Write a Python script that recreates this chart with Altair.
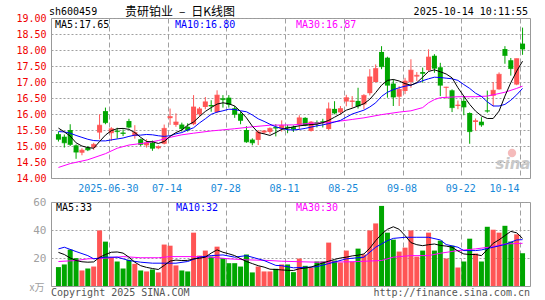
import altair as alt
import pandas as pd

# ---------------- data ----------------
tick_idx = [9, 19, 29, 39, 49, 59, 69, 79]
tick_labels = ["2025-06-30", "07-14", "07-28", "08-11", "08-25", "09-08", "09-22", "10-14"]
price_ticks = [14.0, 14.5, 15.0, 15.5, 16.0, 16.5, 17.0, 17.5, 18.0, 18.5, 19.0]
vol_ticks = [20, 40, 60]

opens = [15.37, 15.29, 15.50, 15.02, 14.79, 14.95, 14.95, 15.42, 16.09, 15.40,
         15.48, 15.42, 15.78, 15.31, 15.21, 15.02, 15.10, 14.93, 15.07, 15.87,
         15.66, 15.67, 15.60, 15.68, 15.99, 16.22, 16.28, 16.06, 16.49, 16.51,
         16.18, 16.01, 15.50, 15.20, 15.19, 15.42, 15.44, 15.59, 15.54, 15.60,
         15.59, 15.66, 15.88, 15.47, 15.74, 15.77, 15.53, 16.16, 16.05, 16.39,
         16.38, 16.41, 16.30, 16.65, 17.00, 17.94, 17.76, 16.95, 16.54, 16.72,
         17.00, 17.17, 17.31, 17.37, 17.82, 17.46, 16.82, 16.74, 16.25, 16.41,
         16.03, 15.75, 15.76, 16.11, 16.57, 16.77, 18.03, 17.68, 16.92, 18.20]
highs = [15.45, 15.36, 15.68, 15.05, 14.93, 15.00, 15.10, 15.99, 16.20, 15.59,
         15.57, 15.52, 15.85, 15.65, 15.23, 15.21, 15.17, 15.02, 15.67, 16.17,
         16.02, 15.73, 15.71, 16.59, 16.22, 16.53, 16.43, 16.74, 16.59, 16.59,
         16.25, 16.07, 15.62, 15.24, 15.50, 15.50, 15.58, 15.68, 15.80, 15.66,
         15.64, 15.96, 15.90, 15.78, 15.80, 15.85, 16.36, 16.40, 16.25, 16.60,
         16.56, 16.82, 16.62, 17.40, 17.55, 18.12, 17.79, 17.08, 16.87, 17.13,
         17.71, 17.31, 17.45, 18.02, 17.87, 17.60, 16.85, 16.77, 16.42, 16.56,
         16.05, 15.86, 15.90, 16.73, 17.00, 17.30, 18.12, 17.75, 17.73, 18.70]
lows = [15.14, 14.95, 15.00, 14.60, 14.71, 14.84, 14.88, 15.21, 15.68, 15.16,
        15.23, 15.31, 15.55, 15.23, 15.00, 14.95, 14.85, 14.90, 15.05, 15.66,
        15.60, 15.45, 15.45, 15.65, 15.93, 16.15, 16.07, 16.03, 16.20, 16.20,
        15.88, 15.68, 15.10, 15.02, 15.03, 15.38, 15.38, 15.30, 15.45, 15.40,
        15.44, 15.52, 15.62, 15.45, 15.58, 15.58, 15.50, 15.99, 15.98, 16.24,
        16.20, 16.17, 16.15, 16.58, 16.98, 17.40, 16.51, 16.25, 16.25, 16.62,
        16.82, 17.03, 16.98, 17.34, 17.29, 16.56, 16.48, 16.06, 16.15, 15.96,
        15.07, 15.48, 15.60, 16.04, 16.24, 16.76, 17.57, 17.20, 16.90, 17.85]
closes = [15.21, 15.10, 15.05, 14.81, 14.87, 14.88, 15.05, 15.65, 15.73, 15.54,
          15.45, 15.39, 15.59, 15.42, 15.05, 15.10, 14.93, 14.98, 15.55, 15.92,
          15.75, 15.54, 15.50, 16.22, 16.16, 16.38, 16.25, 16.59, 16.45, 16.30,
          15.99, 15.80, 15.13, 15.10, 15.44, 15.47, 15.55, 15.56, 15.64, 15.57,
          15.53, 15.88, 15.65, 15.75, 15.71, 15.74, 16.16, 16.03, 16.17, 16.51,
          16.41, 16.25, 16.58, 17.16, 17.42, 17.48, 16.90, 16.53, 16.77, 17.03,
          17.37, 17.21, 17.27, 17.78, 17.43, 16.90, 16.84, 16.20, 16.28, 16.22,
          15.45, 15.79, 15.66, 16.09, 16.74, 17.24, 17.83, 17.42, 17.73, 18.03]
volumes = [13.5, 15.4, 26.0, 19.9, 11.1, 12.5, 13.9, 39.7, 31.7, 20.6,
           17.5, 12.5, 18.7, 15.8, 11.1, 10.4, 11.8, 9.7, 29.6, 28.8,
           14.7, 11.1, 10.4, 38.1, 21.7, 25.3, 21.0, 28.1, 19.9, 16.3,
           16.3, 13.9, 22.5, 9.7, 13.9, 10.4, 10.4, 12.3, 15.4, 15.4,
           9.9, 19.6, 14.4, 13.0, 17.5, 17.5, 31.0, 18.2, 16.8, 25.3,
           17.5, 26.7, 22.5, 39.7, 44.7, 57.2, 38.1, 33.1, 24.6, 27.4,
           39.7, 21.0, 25.3, 38.1, 25.3, 32.4, 19.6, 28.8, 13.2, 17.5,
           33.8, 23.2, 17.5, 42.3, 40.2, 38.1, 43.0, 31.7, 36.9, 23.4]

ma5 = [15.56, 15.44, 15.31, 15.10, 15.00, 14.95, 14.93, 15.14, 15.34, 15.48,
       15.54, 15.55, 15.52, 15.42, 15.27, 15.14, 15.13, 15.08, 15.14, 15.30,
       15.42, 15.50, 15.65, 15.75, 15.92, 16.08, 16.20, 16.31, 16.35, 16.32,
       16.25, 16.08, 15.88, 15.62, 15.42, 15.38, 15.33, 15.42, 15.52, 15.56,
       15.60, 15.63, 15.65, 15.67, 15.68, 15.73, 15.80, 15.90, 16.00, 16.12,
       16.18, 16.25, 16.32, 16.46, 16.67, 16.90, 17.05, 17.08, 17.03, 16.95,
       16.90, 16.98, 17.15, 17.33, 17.38, 17.32, 17.25, 17.13, 16.82, 16.56,
       16.30, 16.09, 15.94, 15.86, 15.86, 16.09, 16.56, 16.98, 17.34, 17.65]
ma10 = [15.45, 15.44, 15.40, 15.33, 15.27, 15.21, 15.17, 15.16, 15.16, 15.19,
        15.22, 15.25, 15.30, 15.34, 15.34, 15.36, 15.35, 15.32, 15.30, 15.32,
        15.38, 15.42, 15.50, 15.57, 15.72, 15.85, 15.99, 16.06, 16.10, 16.15,
        16.14, 16.10, 16.07, 15.97, 15.85, 15.77, 15.68, 15.60, 15.55, 15.51,
        15.50, 15.52, 15.55, 15.59, 15.63, 15.66, 15.70, 15.75, 15.80, 15.90,
        16.00, 16.06, 16.12, 16.22, 16.35, 16.55, 16.68, 16.76, 16.82, 16.87,
        16.90, 16.97, 17.04, 17.10, 17.15, 17.14, 17.12, 17.10, 17.05, 16.92,
        16.80, 16.65, 16.55, 16.38, 16.25, 16.25, 16.30, 16.43, 16.60, 16.80]
ma30_idx = [0, 2, 5, 8, 10, 12, 15, 17, 19, 21, 23, 26, 30, 33, 36, 40, 43, 46, 48, 50,
            52, 55, 58, 60, 62, 63, 64, 65, 68, 71, 73, 76, 78, 79]
ma30_val = [14.33, 14.45, 14.57, 14.76, 14.93, 15.03, 15.10, 15.17, 15.27, 15.35,
            15.40, 15.47, 15.54, 15.60, 15.65, 15.66, 15.71, 15.73, 15.78, 15.83,
            15.88, 15.98, 16.06, 16.10, 16.20, 16.35, 16.45, 16.51, 16.54, 16.54,
            16.56, 16.68, 16.80, 16.87]

vma5 = [24.0, 22.5, 20.0, 18.2, 17.3, 17.0, 17.2, 20.5, 22.5, 24.1,
        24.3, 23.5, 20.6, 17.0, 14.5, 13.3, 12.5, 11.8, 14.7, 17.8,
        18.5, 18.2, 18.3, 19.4, 19.8, 20.6, 23.5, 25.8, 24.1, 23.0,
        21.7, 19.5, 17.5, 16.0, 14.5, 13.5, 12.0, 11.8, 11.5, 11.2,
        11.1, 12.3, 12.8, 13.5, 15.0, 16.5, 17.7, 19.0, 20.0, 20.6,
        21.5, 22.0, 22.9, 27.0, 32.4, 37.0, 40.5, 42.3, 40.5, 36.0,
        31.0, 29.5, 28.8, 29.5, 30.0, 29.0, 28.5, 27.7, 25.0, 22.9,
        22.5, 22.5, 21.7, 26.0, 30.5, 33.0, 36.0, 39.0, 38.0, 34.0]
vma10_idx = [0, 1, 3, 5, 6, 8, 10, 12, 14, 16, 18, 20, 22, 24, 26, 28, 30, 32, 35, 37,
             38, 40, 43, 44, 46, 49, 52, 54, 56, 57, 59, 61, 63, 65, 66, 68, 69, 71, 72, 74,
             76, 78, 79]
vma10_val = [26.5, 27.7, 24.6, 21.7, 19.4, 20.6, 20.6, 18.2, 17.0, 16.3, 16.3, 16.3, 17.5,
             20.6, 21.7, 22.2, 20.6, 21.7, 18.2, 14.7, 14.5, 13.0, 13.5, 13.8, 16.0, 19.4,
             20.6, 27.7, 32.4, 34.0, 34.8, 34.8, 34.8, 32.9, 29.6, 27.7, 25.3, 25.3, 25.8,
             27.7, 29.6, 32.9, 33.1]
vma30_idx = [0, 3, 5, 8, 11, 14, 17, 19, 23, 26, 29, 32, 36, 38, 44, 50, 55, 57, 60, 63,
             65, 68, 71, 74, 76, 79]
vma30_val = [17.5, 18.2, 19.4, 19.9, 21.0, 20.2, 20.2, 21.0, 21.0, 20.6, 19.4, 18.7, 18.2,
             17.7, 17.0, 17.3, 18.2, 20.6, 21.7, 21.7, 23.4, 25.3, 26.5, 28.1, 30.0, 30.5]

# ---------------- styling ----------------
RED, GREEN = "#FF5555", "#00A600"
BLUE, MAG, BLACK = "#0000FF", "#FF00FF", "#000000"
MONO = "DejaVu Sans Mono"
CJK = "Noto Sans CJK SC"
GRID = "#A0A0A0"
W, PH, VH = 479, 160, 84

n = len(closes)
df = pd.DataFrame({
    "i": list(range(n)), "open": opens, "high": highs, "low": lows, "close": closes,
    "vol": volumes, "ma5": ma5, "ma10": ma10, "vma5": vma5,
    "dir": ["up" if c >= o else "down" for o, c in zip(opens, closes)],
})
ma30_df = pd.DataFrame({"i": ma30_idx, "v": ma30_val})
vma10_df = pd.DataFrame({"i": vma10_idx, "v": vma10_val})
vma30_df = pd.DataFrame({"i": vma30_idx, "v": vma30_val})

xs = alt.Scale(domain=[-0.4167, n - 1 + 0.4167], nice=False, zero=False)
ys = alt.Scale(domain=[14, 19], nice=False, zero=False)
vs = alt.Scale(domain=[0, 60], nice=False)
COLOR = alt.Color("dir:N", scale=alt.Scale(domain=["up", "down"], range=[RED, GREEN]), legend=None)

lab_expr = f"'{tick_labels[-1]}'"
for t, l in zip(reversed(tick_idx[:-1]), reversed(tick_labels[:-1])):
    lab_expr = f"datum.value < {t + 0.5} ? '{l}' : " + lab_expr

x_price_axis = alt.Axis(values=tick_idx, labelExpr=lab_expr, title=None, grid=True,
                        gridDash=[5, 3], gridColor=GRID, ticks=False, domain=False,
                        labelFont=MONO, labelFontSize=10, labelColor="#1588D8",
                        labelPadding=5, labelFlush=8, tickOffset=-2.5, labelOffset=-1,
                        labelOverlap=False)
x_vol_axis = alt.Axis(values=tick_idx, labels=False, title=None, grid=True, gridDash=[5, 3],
                      gridColor=GRID, ticks=False, domain=False, tickOffset=-2.5)
y_price_axis = alt.Axis(values=price_ticks, format=".2f", title=None, grid=True,
                        gridDash=[2, 2], gridColor=GRID, ticks=False, domain=False,
                        labelFont=MONO, labelFontSize=10, labelColor="#F00000",
                        labelPadding=5, labelOverlap=False)
y_vol_axis = alt.Axis(values=vol_ticks, title=None, grid=True, gridDash=[2, 2],
                      gridColor=GRID, ticks=False, domain=False, labelFont=MONO,
                      labelFontSize=11, labelColor="#A0A0A0", labelPadding=5,
                      labelOverlap=False)

XP = alt.X("i:Q", scale=xs, axis=x_price_axis)
XV = alt.X("i:Q", scale=xs, axis=x_vol_axis)


def YP(field):
    return alt.Y(field, type="quantitative", scale=ys, axis=y_price_axis)


def YV(field):
    return alt.Y(field, type="quantitative", scale=vs, axis=y_vol_axis)


def txt(s, x, y, color=BLACK, size=10, align="left", font=MONO, **kw):
    return alt.Chart(pd.DataFrame({"t": [s]})).mark_text(
        align=align, baseline="middle", font=font, fontSize=size, color=color, **kw
    ).encode(text="t:N", x=alt.value(x), y=alt.value(y))


anchor = alt.Chart(pd.DataFrame({"a": [0]})).mark_rect(color="white").encode(
    x=alt.value(-50), x2=alt.value(-49), y=alt.value(-17), y2=alt.value(-16))

# ---------------- price panel ----------------
wick = alt.Chart(df).mark_rule(strokeWidth=1).encode(
    x=XP, y=YP("low"), y2="high:Q", color=COLOR)
body = alt.Chart(df).mark_bar(size=5).encode(
    x=XP, y=YP("open"), y2="close:Q", color=COLOR)
doji = alt.Chart(df).mark_tick(orient="horizontal", size=5, thickness=1).encode(
    x=XP, y=YP("close"), color=COLOR)
l30 = alt.Chart(ma30_df).mark_line(color=MAG, strokeWidth=1).encode(x=XP, y=YP("v"))
l10 = alt.Chart(df).mark_line(color=BLUE, strokeWidth=1).encode(x=XP, y=YP("ma10"))
l5 = alt.Chart(df).mark_line(color=BLACK, strokeWidth=1).encode(x=XP, y=YP("ma5"))

logo_eye = alt.Chart(pd.DataFrame({"a": [0]})).mark_circle(size=70, color="#F4B4B4", opacity=0.9).encode(
    x=alt.value(461), y=alt.value(135))
logo_txt = txt("sina", 462, 146, color="#C8C8C8", size=15, align="center",
               font="DejaVu Sans", fontStyle="italic", fontWeight="bold")

price = alt.layer(
    wick, anchor, logo_eye, logo_txt, body, doji, l30, l10, l5,
    txt("sh600459", -2, -6),
    txt("贵研铂业\u2002–\u2002日K线图", 129, -6, size=12, align="center", font=CJK),
    txt("2025-10-14 10:11:55", 477, -6, align="right"),
    txt("MA5:17.65", 4, 7),
    txt("MA10:16.80", 124, 7, color=BLUE),
    txt("MA30:16.87", 245, 7, color=MAG),
).properties(width=W, height=PH)

# ---------------- volume panel ----------------
vbar = alt.Chart(df).mark_bar(size=5).encode(x=XV, y=YV("vol"), color=COLOR)
v30 = alt.Chart(vma30_df).mark_line(color=MAG, strokeWidth=1).encode(x=XV, y=YV("v"))
v10 = alt.Chart(vma10_df).mark_line(color=BLUE, strokeWidth=1).encode(x=XV, y=YV("v"))
v5 = alt.Chart(df).mark_line(color=BLACK, strokeWidth=1).encode(x=XV, y=YV("vma5"))

volume = alt.layer(
    vbar, v30, v10, v5,
    txt("MA5:33", 5, 6),
    txt("MA10:32", 125, 6, color=BLUE),
    txt("MA30:30", 245, 6, color=MAG),
    txt("x万", -14, 86, color="#A0A0A0", size=10, align="center", font=CJK),
    txt("Copyright 2025 SINA.COM", 0, 91, color="#555555"),
    txt("http://finance.sina.com.cn", 479, 91, color="#555555", align="right"),
).properties(width=W, height=VH)

chart = alt.vconcat(price, volume, spacing=24, bounds="flush").properties(
    padding={"left": 0, "top": 0, "right": 0, "bottom": 0}
).configure_view(stroke="#999999", strokeWidth=1)

chart.save("out.html", embed_options={"renderer": "svg", "actions": False})
